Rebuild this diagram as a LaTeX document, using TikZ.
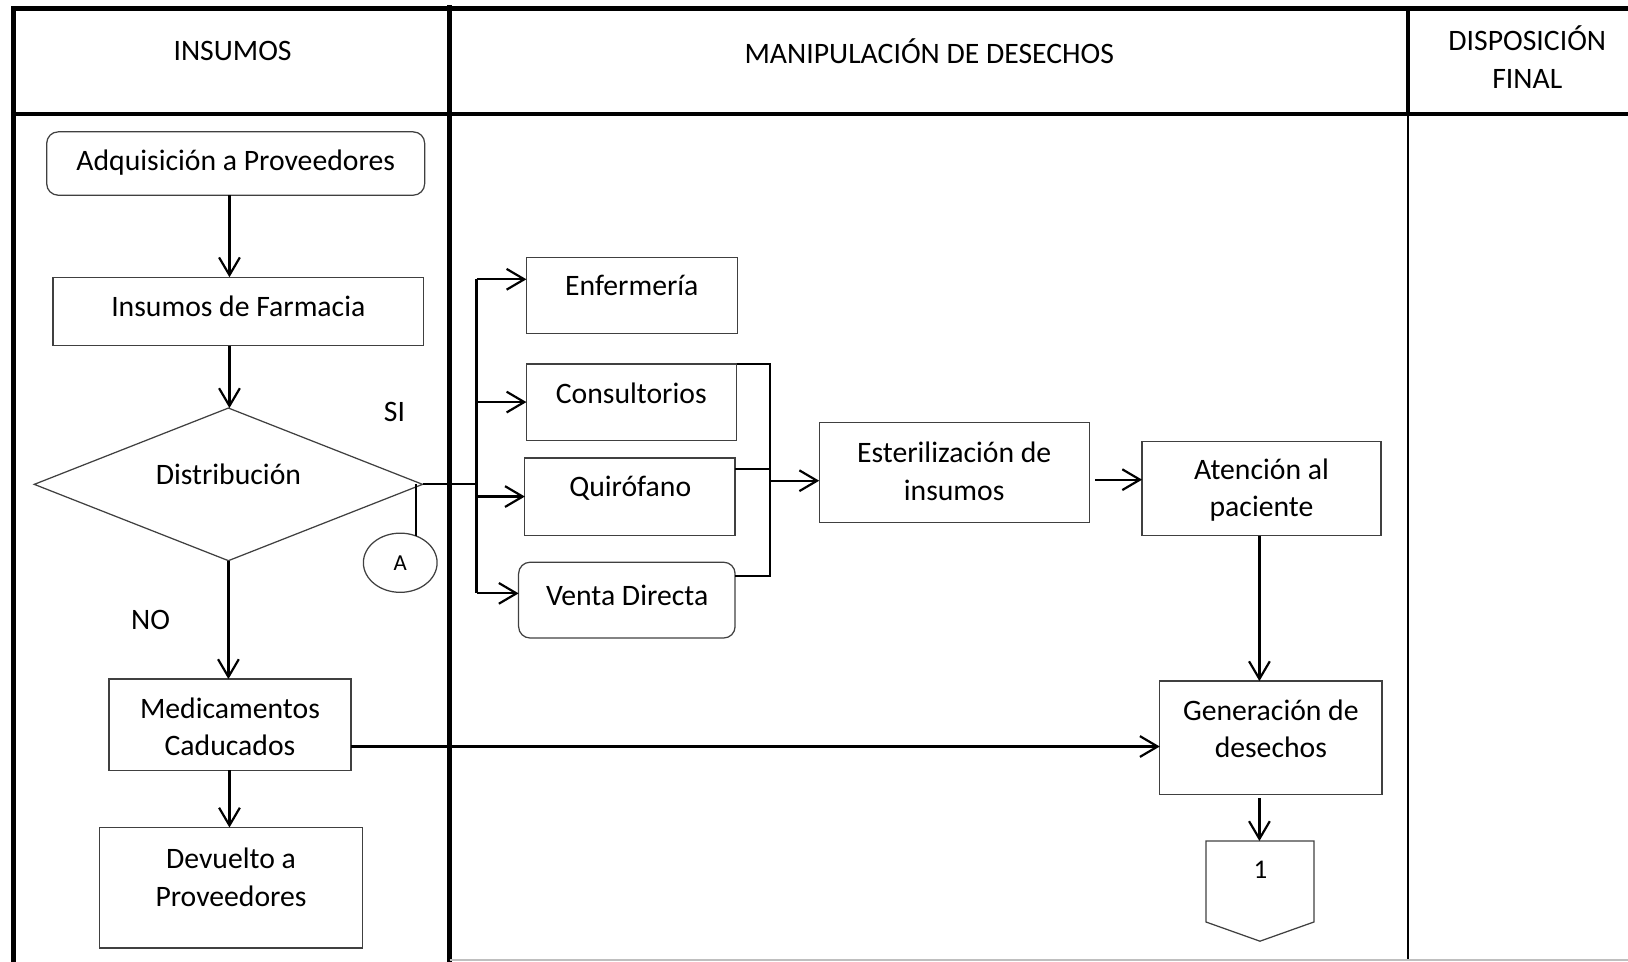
\documentclass[tikz,border=0pt]{standalone}
\usepackage{fontspec}
\setmainfont{Carlito}
\usetikzlibrary{arrows.meta,shapes.geometric,fit}
\begin{document}
\begin{tikzpicture}[x=0.5pt,y=-0.5pt,
  every node/.style={font=\fontsize{14.3}{18}\selectfont, inner sep=0pt, outer sep=0pt},
  box/.style={draw=black!75, line width=0.6pt, rectangle},
  rbox/.style={box, rounded corners=5.5pt},
  lbl/.style={align=center},
  link/.style={draw=black, line width=1.05pt},
  arr/.style={link, -{Straight Barb[length=8.5pt,width=10pt]}},
  frame/.style={draw=black, line width=2.2pt, line cap=rect, line join=miter},
  lane/.style={draw=black, line width=2.8pt, line cap=rect},
  thinlane/.style={draw=black, line width=0.8pt}
]
\useasboundingbox (0,0) rectangle (1568,926);

% swimlane frame
\draw[frame] (13,926) -- (13,8) -- (1568,8);
\draw[frame] (13,110) -- (1568,110);
\draw[lane] (433,8) -- (433,926);
\draw[frame] (1356,8) -- (1356,110);
\draw[thinlane] (1356,110) -- (1356,926);
\draw[black!25, line width=0.6pt] (433,924.5) -- (1568,924.5);

% lane titles
\node[lbl] (h1) at (224,49) {INSUMOS};
\node[lbl] (h2) at (895,49) {MANIPULACIÓN DE DESECHOS};
\node[lbl] (h3) at (1471,55) {DISPOSICIÓN\\FINAL};

% INSUMOS lane
\node[rbox, fit={(45,127) (409,188)}] (adq) {};
\node[lbl] (adq-t) at (227,157) {Adquisición a Proveedores};
\node[box, fit={(51,267) (408,333)}] (ins) {};
\node[lbl] (ins-t) at (229.5,295) {Insumos de Farmacia};
\node[draw=black!75, line width=0.6pt, diamond, minimum width=187pt, minimum height=73.5pt] (dist) at (220,466.5) {};
\node[lbl] (dist-t) at (220,457) {Distribución};
\node[draw=black!75, line width=0.6pt, ellipse, minimum width=35.5pt, minimum height=28.5pt,
      font=\fontsize{11}{13}\selectfont] (A) at (385.5,542) {\raisebox{-2pt}{A}};
\node[lbl] (si) at (380,397) {SI};
\node[lbl] (no) at (145,597) {NO};
\node[box, fit={(105,654) (338,742)}] (med) {};
\node[lbl] (med-t) at (221.5,700) {Medicamentos\\Caducados};
\node[box, fit={(96,797) (349,913)}] (dev) {};
\node[lbl] (dev-t) at (222.5,845) {Devuelto a\\Proveedores};

% MANIPULACIÓN lane
\node[box, fit={(507,248) (710,321)}] (enf) {};
\node[lbl] (enf-t) at (608.5,275) {Enfermería};
\node[box, fit={(507,350.5) (709.5,424)}] (con) {};
\node[lbl] (con-t) at (608,378.5) {Consultorios};
\node[box, fit={(505.5,441) (708,515.5)}] (qui) {};
\node[lbl] (qui-t) at (607,470) {Quirófano};
\node[rbox, fit={(499.5,541.5) (708,614.5)}] (ven) {};
\node[lbl] (ven-t) at (604,573) {Venta Directa};
\node[box, fit={(789,407) (1049,503)}] (est) {};
\node[lbl] (est-t) at (919,454) {Esterilización de\\insumos};
\node[box, fit={(1100,425) (1330,516)}] (ate) {};
\node[lbl] (ate-t) at (1215,472) {Atención al\\paciente};
\node[box, fit={(1117,656) (1331,765)}] (gen) {};
\node[lbl] (gen-t) at (1224,702) {Generación de\\desechos};

% off-page connector
\draw[box] (1161.5,810) -- (1265.5,810) -- (1265.5,888) -- (1213.5,906.5) -- (1161.5,888) -- cycle;
\node[font=\fontsize{13}{15}\selectfont] (c1) at (1214,838) {1};

% helper points for the connectors
\coordinate (colA) at (221,0);
\coordinate (busT) at (459,269);
\coordinate (busB) at (459,571.5);
\coordinate (mrgT) at (741.5,350.5);
\coordinate (mrgB) at (741.5,555);
\coordinate (qrow) at (741.5,452);
\coordinate (mrgOut) at (741.5,463);
\coordinate (row2) at (0,462);
\coordinate (medout) at (0,719);
\coordinate (c1top) at (1213,810);

% connectors, INSUMOS lane
\draw[arr] (adq.south -| colA) -- (ins.north -| colA);
\draw[arr] (ins.south -| colA) -- (dist.north -| colA);
\draw[arr] (dist.south) -- (med.north -| dist.south);
\draw[arr] (med.south -| colA) -- (dev.north -| colA);
\draw[draw=black, line width=0.8pt] (dist.east -| A.60) -- (A.60);

% distribution bus
\draw[link] (dist.east) -- (dist.east -| busT);
\draw[link] (busT) -- (busB);
\draw[arr] (busT) -- (busT -| enf.west);
\draw[arr] (busT |- con.west) -- (con.west);
\draw[arr] (busT |- qui.west) -- (qui.west);
\draw[arr] (busB) -- (busB -| ven.west);

% merge towards sterilisation
\draw[link] (con.north east) -- (mrgT) -- (mrgB) -- (mrgB -| ven.east);
\draw[link] (qui.east |- qrow) -- (qrow);
\draw[arr] (mrgOut) -- (mrgOut -| est.west);
\draw[arr, shorten <=3pt] (est.east |- row2) -- (ate.west |- row2);
\draw[arr] (ate.south -| c1top) -- (gen.north -| c1top);
\draw[arr] (med.east |- medout) -- (gen.west |- medout);
\draw[arr, shorten <=2pt] (gen.south -| c1top) -- (c1top);
\end{tikzpicture}
\end{document}
